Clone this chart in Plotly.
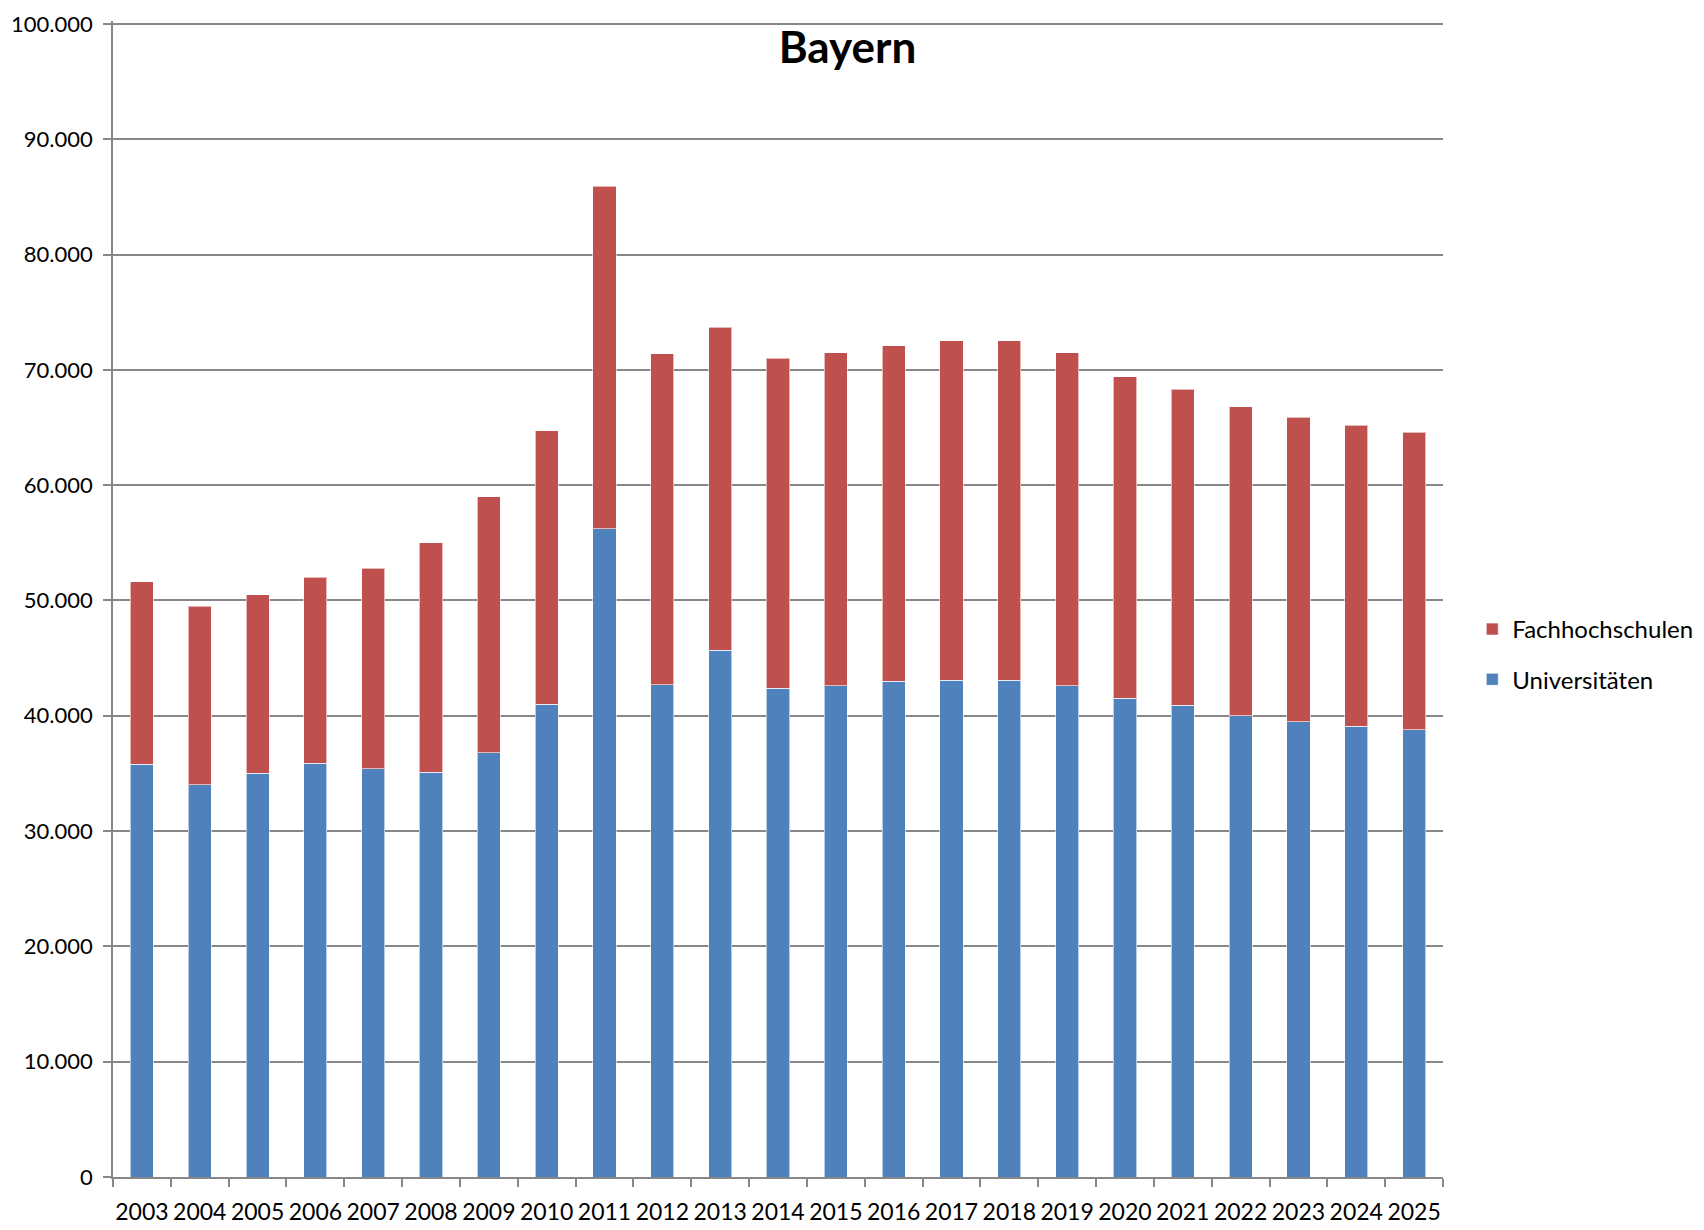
import plotly.graph_objects as go

# Studienanfänger Bayern
years = [str(y) for y in range(2003, 2026)]
universitaeten = [35800, 34000, 35000, 35900, 35400, 35100, 36800, 41000, 56200,
                  42700, 45700, 42400, 42600, 43000, 43100, 43100, 42600, 41500,
                  40900, 40000, 39500, 39100, 38800]
gesamt = [51600, 49500, 50500, 52000, 52800, 55000, 59000, 64700, 85900,
          71400, 73700, 71000, 71500, 72100, 72500, 72500, 71500, 69400,
          68300, 66800, 65900, 65200, 64600]
fachhochschulen = [g - u for g, u in zip(gesamt, universitaeten)]

blue = "#4F81BD"
red = "#C0504D"
grey = "#878787"
font = "Lato, Open Sans, sans-serif"

fig = go.Figure()

fig.add_trace(go.Bar(
    x=years, y=universitaeten, name="Universitäten",
    marker=dict(color=blue, line=dict(color="rgba(255,255,255,0.6)", width=1)),
    legendgroup="uni", legendrank=2,
))
fig.add_trace(go.Bar(
    x=years, y=fachhochschulen, name="Fachhochschulen",
    marker=dict(color=red, line=dict(color="rgba(255,255,255,0.6)", width=1)),
    legendgroup="fh", legendrank=1,
))

# page body has an 8px margin, so the figure is a bit smaller than the window;
# top margin leaves room for the "100.000" label
fig.update_layout(
    width=1696, height=1222,
    barmode="stack",
    bargap=0.6,
    separators=",.",
    plot_bgcolor="white",
    paper_bgcolor="white",
    font=dict(family=font, size=23, color="black"),
    margin=dict(l=105, r=261, t=13, b=53, autoexpand=False),
    title=dict(
        text="<b>Bayern</b>", x=0.495, xanchor="center",
        y=1 - 40 / 1222, yref="container", yanchor="middle",
        font=dict(family=font, size=44, color="black"),
    ),
    legend=dict(
        x=1.022, xanchor="left", y=0.452, yanchor="middle",
        traceorder="grouped", tracegroupgap=16,
        font=dict(family=font, size=24, color="black"),
        bgcolor="rgba(0,0,0,0)",
    ),
    showlegend=True,
)

fig.update_yaxes(
    range=[0, 100250], tickvals=list(range(0, 100001, 10000)), tickformat=",.0f",
    tickfont=dict(size=22),
    showgrid=True, gridcolor=grey, gridwidth=1.5,
    showline=True, linecolor=grey, linewidth=1.5,
    ticks="outside", ticklen=8, tickcolor=grey, tickwidth=1.5,
    ticklabelstandoff=6, ticklabeloverflow="allow", zeroline=False,
)
fig.update_xaxes(
    type="category", tickangle=0, tickson="boundaries",
    showgrid=False, showline=True, linecolor=grey, linewidth=1.5,
    ticks="outside", ticklen=8, tickcolor=grey, tickwidth=1.5,
    ticklabelstandoff=14,
)

fig.write_html("out.html")
